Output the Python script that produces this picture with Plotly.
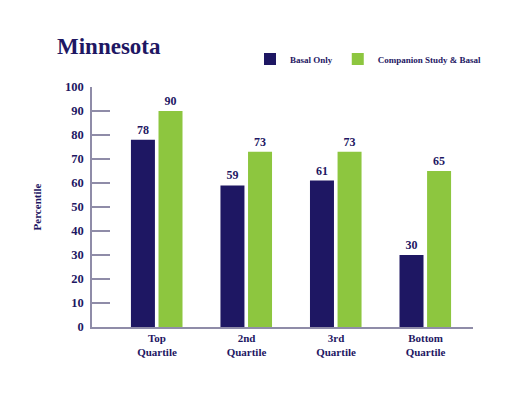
import plotly.graph_objects as go

categories = ["Top<br>Quartile", "2nd<br>Quartile", "3rd<br>Quartile", "Bottom<br>Quartile"]
series_names = ["Basal Only", "Companion Study & Basal"]
basal_only = [78, 59, 61, 30]
companion = [90, 73, 73, 65]
y_ticks = [0, 10, 20, 30, 40, 50, 60, 70, 80, 90, 100]

NAVY = "#1e1763"
GREEN = "#8dc63f"
AXIS = "#8f8ca8"
FONT = "Liberation Serif"

# page body has an 8px margin; figure is sized to fit inside the window
W, H = 517, 386
L, T, R_EDGE, B_EDGE = 84, 79, 465, 319.5

xpos = list(range(len(categories)))

fig = go.Figure()
fig.add_trace(go.Bar(
    x=xpos, y=basal_only, name="<b>%s</b>" % series_names[0],
    marker=dict(color=NAVY, line=dict(width=0)),
    width=0.268, offset=-0.291,
    text=["<b>%d</b>" % v for v in basal_only], textposition="outside",
    textfont=dict(family=FONT, size=12, color=NAVY),
    cliponaxis=False,
))
fig.add_trace(go.Bar(
    x=xpos, y=companion, name="<b>%s</b>" % series_names[1].replace("&", "&amp;"),
    marker=dict(color=GREEN, line=dict(width=0)),
    width=0.268, offset=0.017,
    text=["<b>%d</b>" % v for v in companion], textposition="outside",
    textfont=dict(family=FONT, size=12, color=NAVY),
    cliponaxis=False,
))

ph = B_EDGE - T
pw = R_EDGE - L
fig.update_layout(
    width=W, height=H,
    margin=dict(l=L, r=W - R_EDGE, t=T, b=H - B_EDGE, autoexpand=False),
    paper_bgcolor="white", plot_bgcolor="white",
    font=dict(family=FONT, color=NAVY),
    title=dict(text="<b>Minnesota</b>", x=49 / W, xanchor="left", y=1 - 38 / H, yanchor="middle",
               font=dict(family=FONT, size=23, color=NAVY)),
    showlegend=True,
    legend=dict(orientation="h", x=(242 - L) / pw, xanchor="left", y=(B_EDGE - 51) / ph, yanchor="middle",
                font=dict(family=FONT, size=9, color=NAVY), itemclick=False,
                bgcolor="rgba(0,0,0,0)", traceorder="normal"),
    xaxis=dict(
        range=[-0.726, 3.53], tickvals=xpos, ticktext=["<b>%s</b>" % c for c in categories],
        showline=True, linecolor=AXIS, linewidth=1.5, ticks="", showgrid=False, zeroline=False,
        tickfont=dict(family=FONT, size=11, color=NAVY), fixedrange=True,
    ),
    yaxis=dict(
        range=[0, 100], tickvals=y_ticks, ticktext=["<b>%d</b>" % v for v in y_ticks],
        showline=True, linecolor=AXIS, linewidth=1.5, ticks="inside", ticklen=18, tickwidth=1.5,
        tickcolor=AXIS, showgrid=False, zeroline=False,
        tickfont=dict(family=FONT, size=12.5, color=NAVY), ticklabelstandoff=4,
        title=dict(text="<b>Percentile</b>", font=dict(family=FONT, size=11, color=NAVY), standoff=21),
        fixedrange=True,
    ),
)

fig.write_html("out.html")
